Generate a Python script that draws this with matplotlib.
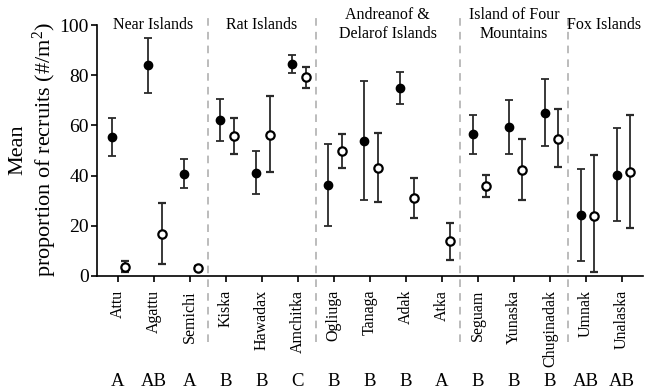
import matplotlib
matplotlib.use("Agg")
import matplotlib.pyplot as plt
import numpy as np
from matplotlib.transforms import blended_transform_factory

plt.rcParams['font.family'] = ['Liberation Serif', 'DejaVu Serif']
plt.rcParams['mathtext.fontset'] = 'custom'
plt.rcParams['mathtext.rm'] = 'Liberation Serif'
plt.rcParams['mathtext.it'] = 'Liberation Serif:italic'

islands = ["Attu", "Agattu", "Semichi", "Kiska", "Hawadax", "Amchitka",
           "Ogliuga", "Tanaga", "Adak", "Atka", "Seguam", "Yunaska",
           "Chuginadak", "Umnak", "Unalaska"]
letters = ["A", "AB", "A", "B", "B", "C", "B", "B", "B", "A", "B", "B", "B", "AB", "AB"]

# filled series (np.nan = missing)
filled_mean = [55.4, 84.1, 40.8, 62.2, 40.9, 84.6, 36.4, 53.9, 74.9, np.nan, 56.4, 59.4, 65.1, 24.3, 40.4]
filled_lo   = [47.7, 73.0, 35.1, 53.7, 32.5, 80.7, 20.0, 30.4, 68.4, np.nan, 48.6, 48.6, 51.8, 6.1, 21.9]
filled_hi   = [63.1, 94.9, 46.5, 70.5, 49.7, 88.2, 52.7, 77.7, 81.4, np.nan, 64.1, 70.1, 78.5, 42.6, 59.1]

# open series
open_mean = [3.7, 16.6, 3.2, 55.8, 56.3, 79.3, 49.8, 43.0, 31.2, 13.8, 35.9, 42.4, 54.7, 23.8, 41.6]
open_lo   = [1.7, 4.7, 2.6, 48.7, 41.3, 75.0, 43.0, 29.4, 23.2, 6.5, 31.4, 30.4, 43.3, 1.5, 19.1]
open_hi   = [6.0, 29.0, 3.8, 62.9, 71.6, 83.3, 56.6, 56.9, 38.9, 21.0, 40.1, 54.7, 66.4, 48.3, 64.1]

regions = ["Near Islands", "Rat Islands", "Andreanof &\nDelarof Islands",
           "Island of Four\nMountains", "Fox Islands"]
region_sizes = [3, 3, 4, 3, 2]

fig = plt.figure(figsize=(6.45, 3.92), dpi=100)
ax = fig.add_axes([97/645, (392-276)/392, (643-97)/645, (276-15)/392])

x = np.arange(len(islands))
fm = np.array(filled_mean); fl = np.array(filled_lo); fh = np.array(filled_hi)
om = np.array(open_mean); ol = np.array(open_lo); oh = np.array(open_hi)

ecol = '#2a2a2a'
ax.errorbar(x - 0.15, fm, yerr=[fm - fl, fh - fm], fmt='o', color='black',
            ecolor=ecol, elinewidth=1.3, capsize=3, capthick=1.3,
            markersize=6, zorder=3)
ax.errorbar(x + 0.22, om, yerr=[om - ol, oh - om], fmt='o', color='black',
            markerfacecolor='white', markeredgecolor='black', markeredgewidth=1.6,
            ecolor=ecol, elinewidth=1.3, capsize=3, capthick=1.3,
            markersize=6, zorder=3, clip_on=False)

ax.set_xlim(-0.57, 14.58)
ax.set_ylim(0, 104)
ax.set_xticks(x)
ax.set_xticklabels(islands, rotation=90, fontsize=11.5)
ax.set_yticks([0, 20, 40, 60, 80, 100])
ax.tick_params(axis='y', labelsize=14, length=4, width=1.2, direction='out', pad=2)
ax.tick_params(axis='x', length=4, width=1.2, direction='out', pad=6)
for s in ['top', 'right']:
    ax.spines[s].set_visible(False)
ax.spines['left'].set_bounds(0, 100)
ax.spines['left'].set_linewidth(1.2)
ax.spines['bottom'].set_linewidth(1.2)

fig.text(18/645, 1 - 150/392, "Mean", rotation=90, ha='center', va='center', fontsize=16)
fig.text(45/645, 1 - 150/392, "proportion of recruits (#/m$^2$)", rotation=90,
         ha='center', va='center', fontsize=16)

trans = blended_transform_factory(ax.transData, ax.transAxes)
start = 0
for name, n in zip(regions, region_sizes):
    center = start + (n - 1) / 2
    ax.text(center, 100.2, name, ha='center', va='center', fontsize=11.5,
            linespacing=1.2)
    end = start + n
    if end < len(islands):
        ax.plot([end - 0.5, end - 0.5], [-0.253, 1.0], transform=trans,
                color='#aaaaaa', linestyle=(0, (5, 4)), linewidth=1.1, clip_on=False)
    start = end

for xi, lab in zip(x, letters):
    ax.text(xi, -0.405, lab, transform=trans, ha='center', va='center', fontsize=13.5)

fig.savefig("out.png", dpi=100)
